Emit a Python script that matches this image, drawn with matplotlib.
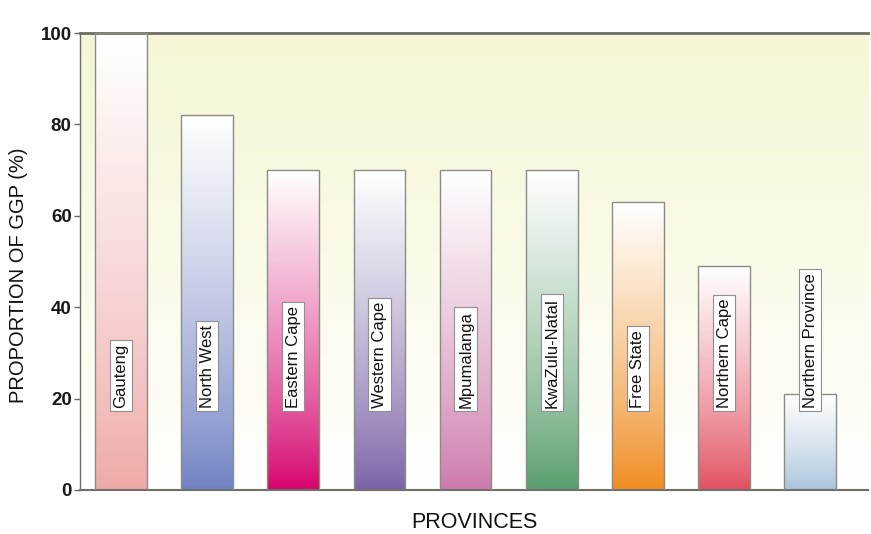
import numpy as np
import matplotlib.pyplot as plt
from matplotlib.colors import LinearSegmentedColormap

# Dados
provinces = ["Gauteng", "North West", "Eastern Cape", "Western Cape", "Mpumalanga",
             "KwaZulu-Natal", "Free State", "Northern Cape", "Northern Province"]
ggp_share = [100, 82, 70, 70, 70, 70, 63, 49, 21]
bar_colors = ["#eea8a6", "#6f80c2", "#d5006a", "#7961a6", "#cc78aa",
              "#569c6b", "#ef8a1c", "#e14d5f", "#a8c2da"]
y_ticks = [0, 20, 40, 60, 80, 100]

plt.rcParams["font.family"] = ["Liberation Sans", "DejaVu Sans"]

fig = plt.figure(figsize=(8.71, 5.34), dpi=100)
ax = fig.add_axes([80 / 871, 44 / 534, 788 / 871, 457 / 534])

x = np.arange(len(provinces))

# Fundo em degradê (amarelo claro em cima, branco em baixo)
bg = np.linspace(0, 1, 256).reshape(-1, 1) ** 0.9
bg_cmap = LinearSegmentedColormap.from_list("bg", ["#ffffff", "#f6f6d6"])
ax.imshow(bg, cmap=bg_cmap, aspect="auto", extent=[0, 1, 0, 1],
          transform=ax.transAxes, origin="lower", zorder=0)

bars = ax.bar(x, ggp_share, width=0.6, facecolor="none",
              edgecolor="#8c8c86", linewidth=1.0, zorder=3)

# Degradê em cada barra: branco no topo, cor cheia na base
grad = np.linspace(0, 1, 256).reshape(-1, 1) ** 0.8
for patch, color in zip(bars.patches, bar_colors):
    cmap = LinearSegmentedColormap.from_list("c", [color, "#ffffff"])
    x0 = patch.get_x()
    w = patch.get_width()
    h = patch.get_height()
    im = ax.imshow(grad, cmap=cmap, aspect="auto", origin="lower",
                   extent=[x0, x0 + w, 0, h], zorder=2)
    im.set_clip_path(patch)

ax.set_xlim(-0.476, 8.67)
ax.set_ylim(0, 100)

for xi, name in zip(x, provinces):
    ax.text(xi, 18, name, rotation=90, ha="center", va="bottom",
            fontsize=12, color="#111111", zorder=5,
            bbox=dict(boxstyle="square,pad=0.22", facecolor="white",
                      edgecolor="#909090", linewidth=0.8))

ax.set_xticks([])
ax.set_yticks(y_ticks)
ax.set_yticklabels([str(t) for t in y_ticks], fontsize=13.5, fontweight="bold",
                   color="#1a1a1a")
ax.tick_params(axis="y", length=4, width=1, color="#666666", pad=2)

for side in ["left", "bottom", "top"]:
    ax.spines[side].set_color("#6e6e66")
ax.spines["top"].set_linewidth(2)
ax.spines["bottom"].set_linewidth(1.5)
ax.spines["left"].set_linewidth(1.0)
ax.spines["right"].set_visible(False)

ax.set_ylabel("PROPORTION OF GGP (%)", fontsize=14.5, color="#111111", labelpad=7)
ax.yaxis.set_label_coords(-0.066, 0.47)
ax.set_xlabel("PROVINCES", fontsize=15.5, color="#111111", labelpad=16)

fig.savefig("out.png", dpi=100)
